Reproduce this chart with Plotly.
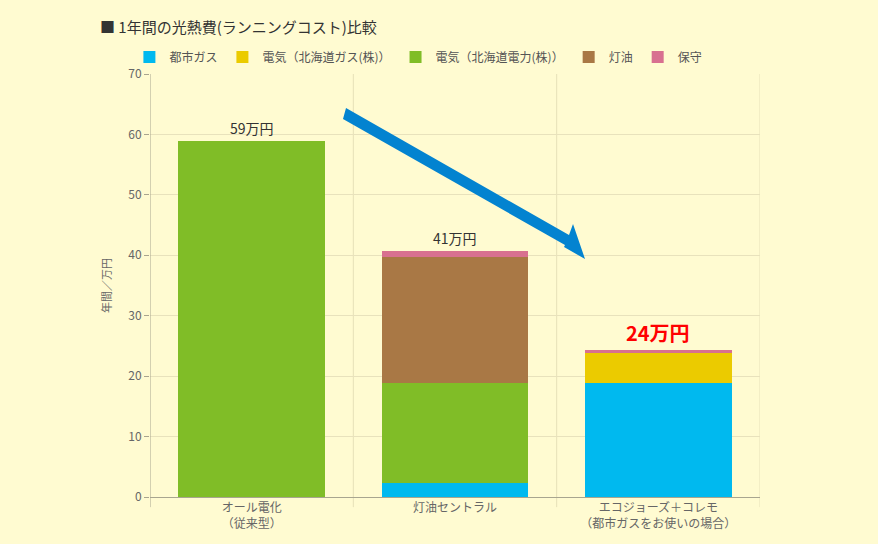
import plotly.graph_objects as go

categories = ["オール電化<br>（従来型）", "灯油セントラル", "エコジョーズ＋コレモ<br>（都市ガスをお使いの場合）"]
series_names = ["都市ガス", "電気（北海道ガス(株)）", "電気（北海道電力(株)）", "灯油", "保守"]
series_colors = ["#00B9EF", "#EBCB00", "#80BD27", "#A97845", "#D87090"]
toshi_gas = [0, 2.3, 18.8]
denki_hokkaido_gas = [0, 0, 5.0]
denki_hokkaido_denryoku = [58.9, 16.5, 0]
touyu = [0, 20.9, 0]
hoshu = [0, 1.0, 0.5]
totals_labels = ["59万円", "41万円", "24万円"]
y_ticks = [0, 10, 20, 30, 40, 50, 60, 70]

series_values = [toshi_gas, denki_hokkaido_gas, denki_hokkaido_denryoku, touyu, hoshu]

fig = go.Figure()
for name, color, vals in zip(series_names, series_colors, series_values):
    fig.add_trace(go.Bar(
        x=[0, 1, 2], y=vals, name=name, marker=dict(color=color, line=dict(width=0)),
        width=0.72, hoverinfo="skip"))

totals = [sum(v[i] for v in series_values) for i in range(3)]
for i, (t, lab) in enumerate(zip(totals, totals_labels)):
    if i == 2:
        font = dict(size=20, color="#FF0000", family="Noto Sans CJK JP")
        txt = "<b>" + lab + "</b>"
    else:
        font = dict(size=14, color="#333333", family="Noto Sans CJK JP")
        txt = lab
    fig.add_annotation(x=i, y=t, text=txt, showarrow=False, yanchor="bottom",
                       yshift=1, font=font)

# decorative arrow (data units)
px2x = lambda px: (px - 150) / 203.33 - 0.5
py2y = lambda py: (497 - py) / 6.043
arrow_px = [(346, 108), (569, 235), (573, 224), (585, 259), (564, 247), (565, 245), (343, 119)]
path = "M " + " L ".join(f"{px2x(a):.4f},{py2y(b):.4f}" for a, b in arrow_px) + " Z"
fig.add_shape(type="path", path=path, xref="x", yref="y",
              fillcolor="#0383D0", line=dict(width=0), layer="above")

bg = "#FFFBD1"
fig.update_layout(
    barmode="stack",
    width=878, height=544,
    paper_bgcolor=bg, plot_bgcolor=bg,
    margin=dict(l=150, r=118, t=74, b=47, autoexpand=False),
    font=dict(family="Noto Sans CJK JP", color="#555555"),
    title=dict(text="■ 1年間の光熱費(ランニングコスト)比較", x=100 / 878, xanchor="left",
               y=1 - 28 / 544, yanchor="middle",
               font=dict(size=15, color="#333333", family="Noto Sans CJK JP")),
    legend=dict(orientation="h", x=0.44, xanchor="center", y=1 + 17 / 423,
                yanchor="middle", font=dict(size=12, color="#555555"),
                traceorder="normal",
                itemwidth=30, tracegroupgap=0, bgcolor="rgba(0,0,0,0)"),
    showlegend=True,
)
fig.update_xaxes(
    tickmode="array", tickvals=[0, 1, 2], ticktext=categories,
    range=[-0.5, 2.5], showgrid=False,
    showline=True, linecolor="#A8A58F", linewidth=1,
    ticks="", tickfont=dict(size=12, color="#666666"),
    zeroline=False,
)
# vertical boundary lines
for b in [0.5, 1.5, 2.5]:
    fig.add_shape(type="line", x0=b, x1=b, xref="x", y0=-0.024, y1=1, yref="paper",
                  line=dict(color="#E6E0B8", width=1), layer="below")
fig.add_shape(type="line", x0=-0.5, x1=-0.5, xref="x", y0=-0.024, y1=1, yref="paper",
              line=dict(color="#A8A58F", width=1), layer="above")
fig.update_yaxes(
    range=[0, 70], tickvals=y_ticks, showgrid=True, gridcolor="#E8E2BC", gridwidth=1,
    showline=False, zeroline=False,
    ticks="outside", ticklen=5, tickcolor="#A8A58F",
    tickfont=dict(size=12, color="#666666"),
    title=dict(text="年間／万円", font=dict(size=11, color="#666666"), standoff=14),
)
fig.write_html("out.html")
